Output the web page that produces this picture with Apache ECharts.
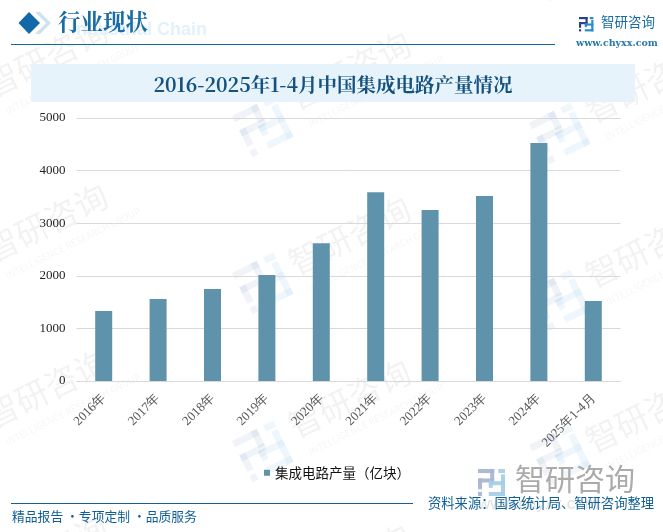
<!DOCTYPE html>
<html>
<head>
<meta charset="utf-8">
<style>html,body{margin:0;padding:0;background:#fff}#main{width:663px;height:532px}</style>
<script src="https://cdn.jsdelivr.net/npm/echarts@6/dist/echarts.min.js"></script>
</head>
<body>
<div id="main"></div>
<script>
var categories = ['2016年','2017年','2018年','2019年','2020年','2021年','2022年','2023年','2024年','2025年1-4月'];
var values = [1330,1560,1750,2015,2620,3590,3250,3515,4525,1520];
var yTicks = [0,1000,2000,3000,4000,5000];
var seriesName = '集成电路产量（亿块）';

var chart = echarts.init(document.getElementById('main'), null, {renderer:'canvas'});

var serif = '"Noto Serif CJK SC","Liberation Serif","DejaVu Serif",serif';
var sans = '"Noto Sans CJK SC","Noto Sans",sans-serif';

// logo pieces on a 20x20 grid
var logoDark = [[0,0,12,3],[9,0,3,8],[0,7,12,3],[0,7,3,8],[0,17,3,3]];
var logoLight = [[15,0,5,3],[17,4,3,16],[8,9,12,3],[8,17,12,3],[8,9,3,5]];

function logo(x, y, s, c1, c2, opacity, rot) {
  function parts(list, c) {
    return list.map(function(b){
      return {type:'rect', shape:{x:b[0]*s,y:b[1]*s,width:b[2]*s,height:b[3]*s}, style:{fill:c,opacity:opacity}};
    });
  }
  return {
    type:'group', x:x, y:y, rotation:rot||0, silent:true, z:0,
    children: parts(logoDark,c1).concat(parts(logoLight,c2))
  };
}

function watermark(x, y) {
  return {
    type:'group', x:x, y:y, rotation:0.46, silent:true, z:0,
    children:[
      {type:'text', x:0, y:0, style:{text:'智研咨询', font:'33px '+sans, fill:'#000', opacity:0.05, letterSpacing:4}},
      {type:'text', x:6, y:42, style:{text:'INTELLIGENCE RESEARCH GROUP', font:'9.5px '+sans, fill:'#000', opacity:0.045}}
    ]
  };
}

var graphics = [];
[[-20,72],[-20,237],[-20,403],[-20,568],[283,85],[283,250],[283,413],[283,578],[580,98],[580,263],[580,428],[283,-80],[580,-60],[-20,-90]].forEach(function(p){
  graphics.push(watermark(p[0],p[1]));
});
[[232,116],[232,273],[232,441],[529,123],[529,290],[529,445],[232,-45],[529,-40]].forEach(function(p){
  graphics.push(logo(p[0],p[1],2.3,'#2a4f98','#2a8ad0',0.07,0.46));
});

graphics = graphics.concat([
  {type:'text', x:71, y:21, z:1, silent:true, style:{text:'Industrial Chain', font:'bold 18px "Liberation Sans",sans-serif', fill:'#e3f1fb'}},
  {type:'polygon', z:2, silent:true, shape:{points:[[35,12],[40,12],[51,23],[40,34],[35,34],[46,23]]}, style:{fill:'#cfe2ee'}},
  {type:'polygon', z:3, silent:true, shape:{points:[[29,12],[40,23],[29,34],[18.5,23]]}, style:{fill:'#1268a8'}},
  {type:'text', x:58, y:10, z:3, silent:true, style:{text:'行业现状', font:'bold 22.5px '+serif, fill:'#1a6ca5'}},
  {type:'rect', z:2, silent:true, shape:{x:11,y:44,width:544,height:1}, style:{fill:'#1268a0'}},
  logo(579,17,0.72,'#2b3f8f','#2a8ad0',1,0),
  {type:'text', x:601,y:15, z:3, silent:true, style:{text:'智研咨询', font:'13.5px '+sans, fill:'#1a6ca5', letterSpacing:0.3}},
  {type:'text', x:576,y:39, z:3, silent:true, style:{text:'www.chyxx.com', font:'bold 9.5px "DejaVu Serif",serif', fill:'#2a78ad'}},
  {type:'rect', z:1, silent:true, shape:{x:31,y:64,width:604,height:38}, style:{fill:'#e6f3fb'}},
  {type:'text', x:333,y:85, z:3, silent:true, style:{text:'2016-2025年1-4月中国集成电路产量情况', font:'bold 19.5px '+serif, fill:'#15527f', textAlign:'center', textVerticalAlign:'middle'}},
  logo(478,469,1.35,'#a9b6d2','#a8cfe8',0.95,0),
  {type:'text', x:515,y:464, z:3, silent:true, style:{text:'智研咨询', font:'30px '+sans, fill:'#ababab', letterSpacing:2.5}},
  {type:'text', x:478,y:496, z:3, silent:true, style:{text:'www.chyxx.com', font:'17px "Liberation Sans",sans-serif', fill:'#e2e2e2', letterSpacing:1.5}},
  {type:'rect', z:4, silent:true, shape:{x:11,y:503,width:402,height:1}, style:{fill:'#1a5f8f'}},
  {type:'text', x:428,y:496, z:4, silent:true, style:{text:'资料来源：国家统计局、智研咨询整理', font:'13.3px '+sans, fill:'#0f5f96'}},
  {type:'text', x:12,y:510, z:4, silent:true, style:{text:'精品报告 ·专项定制 ·品质服务', font:'12.8px '+sans, fill:'#0f5f96'}}
]);

var option = {
  animation:false,
  backgroundColor:'transparent',
  graphic:graphics,
  legend:{
    show:true, left:259, top:461, itemWidth:6, itemHeight:6, itemGap:3,
    icon:'rect', data:[seriesName],
    textStyle:{color:'#111', fontSize:13.5, fontFamily:sans}
  },
  grid:{left:76.5, right:42.5, top:118, bottom:151, containLabel:false},
  xAxis:{
    type:'category', data:categories,
    axisTick:{show:false},
    axisLine:{lineStyle:{color:'#d9d9d9',width:1}},
    axisLabel:{interval:0, rotate:45, color:'#555', fontSize:13, fontFamily:'"Liberation Serif",serif', margin:15}
  },
  yAxis:{
    type:'value', min:yTicks[0], max:yTicks[yTicks.length-1], interval:1000,
    axisLine:{show:false}, axisTick:{show:false},
    axisLabel:{color:'#222', fontSize:13, fontFamily:'"Liberation Serif",serif', margin:11,
      formatter:function(v){return String(v);}},
    splitLine:{lineStyle:{color:'#d9d9d9',width:1}}
  },
  series:[{name:seriesName, type:'bar', data:values, barWidth:17, itemStyle:{color:'#5f93ab'}, z:5}]
};
chart.setOption(option);
</script>
</body>
</html>
